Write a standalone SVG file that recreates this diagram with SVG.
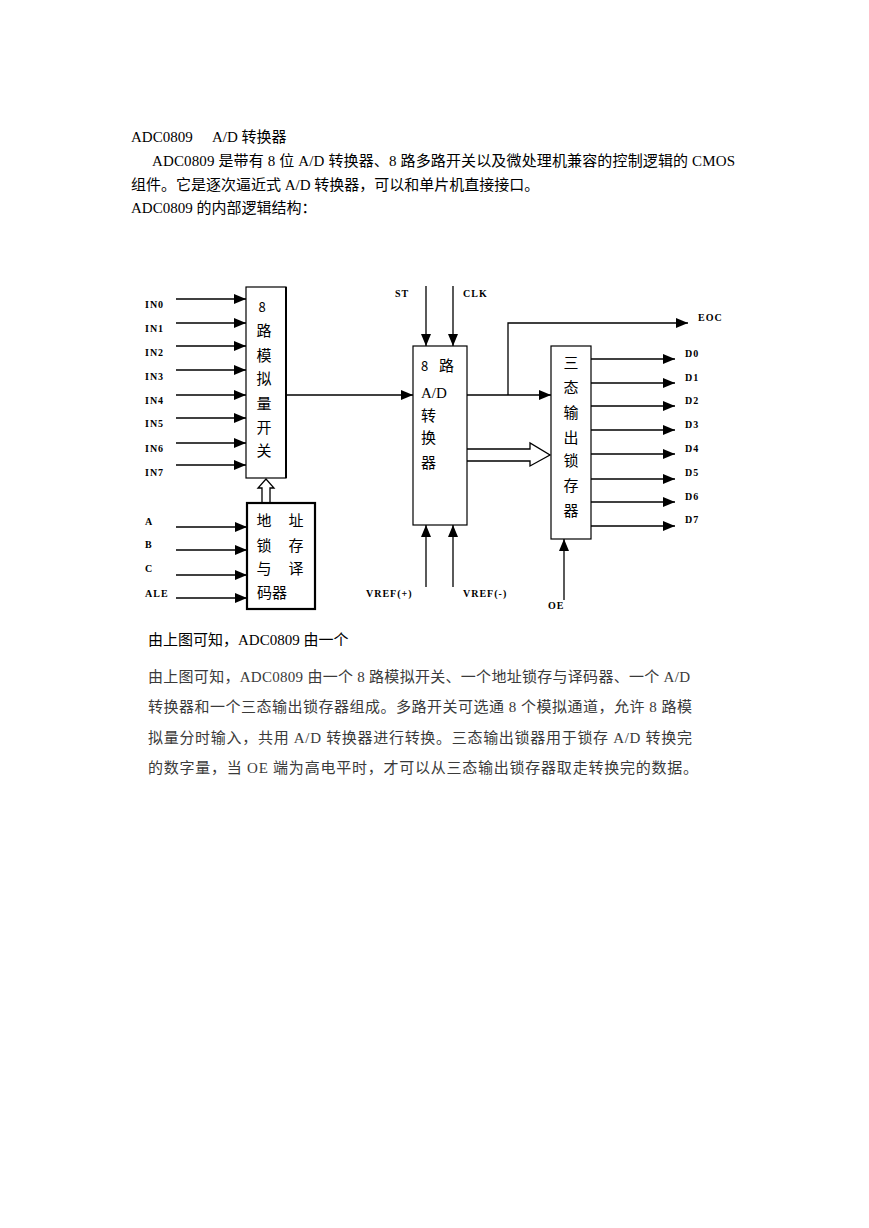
<svg xmlns="http://www.w3.org/2000/svg" width="869" height="1228" viewBox="0 0 869 1228">
<defs>
<marker id="ah" markerUnits="userSpaceOnUse" markerWidth="13" markerHeight="11" refX="12" refY="5" orient="auto">
<path d="M0,0 L12,5 L0,10 z" fill="#000"/>
</marker>
<style>
.t{font-family:"Liberation Serif","Noto Sans CJK SC",serif;font-size:15px;fill:#000}
.p{font-family:"Liberation Serif","Noto Sans CJK SC",serif;font-size:15px;fill:#3a3a3a}
.lb{font-family:"Liberation Serif",serif;font-size:10px;font-weight:bold;letter-spacing:1px;fill:#000}
.cn{font-family:"Noto Sans CJK SC",sans-serif;font-size:15px;fill:#000}
.w{stroke:#000;stroke-width:1.3;fill:none}
.box{fill:#fff;stroke:#000;stroke-width:1.2}
</style>
</defs>
<rect width="869" height="1228" fill="#fff"/>
<g id="header">
<text class="t" x="131" y="142">ADC0809<tspan x="212">A/D 转换器</tspan></text>
<text class="t" x="152" y="166" textLength="583" lengthAdjust="spacing">ADC0809 是带有 8 位 A/D 转换器、8 路多路开关以及微处理机兼容的控制逻辑的 CMOS</text>
<text class="t" x="131" y="190">组件。它是逐次逼近式 A/D 转换器，可以和单片机直接接口。</text>
<text class="t" x="131" y="213">ADC0809 的内部逻辑结构：</text>
</g>
<g id="connectors">
<line class="w" x1="176" y1="299" x2="246" y2="299" marker-end="url(#ah)"/>
<line class="w" x1="176" y1="323" x2="246" y2="323" marker-end="url(#ah)"/>
<line class="w" x1="176" y1="346" x2="246" y2="346" marker-end="url(#ah)"/>
<line class="w" x1="176" y1="370" x2="246" y2="370" marker-end="url(#ah)"/>
<line class="w" x1="176" y1="395" x2="246" y2="395" marker-end="url(#ah)"/>
<line class="w" x1="176" y1="418" x2="246" y2="418" marker-end="url(#ah)"/>
<line class="w" x1="176" y1="443" x2="246" y2="443" marker-end="url(#ah)"/>
<line class="w" x1="176" y1="465" x2="246" y2="465" marker-end="url(#ah)"/>
<line class="w" x1="176" y1="527" x2="247" y2="527" marker-end="url(#ah)"/>
<line class="w" x1="176" y1="550" x2="247" y2="550" marker-end="url(#ah)"/>
<line class="w" x1="176" y1="575" x2="247" y2="575" marker-end="url(#ah)"/>
<line class="w" x1="176" y1="598" x2="247" y2="598" marker-end="url(#ah)"/>
<path class="w" d="M262,503 L262,488 L258,488 L266,479 L274,488 L270,488 L270,503" fill="#fff"/>
<line class="w" x1="286" y1="395" x2="413" y2="395" marker-end="url(#ah)"/>
<line class="w" x1="426" y1="286" x2="426" y2="346" marker-end="url(#ah)"/>
<line class="w" x1="453" y1="286" x2="453" y2="346" marker-end="url(#ah)"/>
<line class="w" x1="426" y1="587" x2="426" y2="525" marker-end="url(#ah)"/>
<line class="w" x1="453" y1="587" x2="453" y2="525" marker-end="url(#ah)"/>
<line class="w" x1="467" y1="395" x2="551" y2="395" marker-end="url(#ah)"/>
<polyline class="w" points="508,395 508,323 688,323" marker-end="url(#ah)"/>
<path class="w" d="M467,449 L530,449 L530,443 L550,455 L530,466 L530,461 L467,461"/>
<line class="w" x1="591" y1="359" x2="675" y2="359" marker-end="url(#ah)"/>
<line class="w" x1="591" y1="383" x2="675" y2="383" marker-end="url(#ah)"/>
<line class="w" x1="591" y1="406" x2="675" y2="406" marker-end="url(#ah)"/>
<line class="w" x1="591" y1="430" x2="675" y2="430" marker-end="url(#ah)"/>
<line class="w" x1="591" y1="454" x2="675" y2="454" marker-end="url(#ah)"/>
<line class="w" x1="591" y1="479" x2="675" y2="479" marker-end="url(#ah)"/>
<line class="w" x1="591" y1="502" x2="675" y2="502" stroke-width="2" marker-end="url(#ah)"/>
<line class="w" x1="591" y1="526" x2="675" y2="526" marker-end="url(#ah)"/>
<line class="w" x1="564" y1="600" x2="564" y2="539" marker-end="url(#ah)"/>
</g>
<g id="labels">
<text class="lb" x="145" y="308">IN0</text>
<text class="lb" x="145" y="332">IN1</text>
<text class="lb" x="145" y="356">IN2</text>
<text class="lb" x="145" y="380">IN3</text>
<text class="lb" x="145" y="404">IN4</text>
<text class="lb" x="145" y="427">IN5</text>
<text class="lb" x="145" y="452">IN6</text>
<text class="lb" x="145" y="476">IN7</text>
<text class="lb" x="145" y="525">A</text>
<text class="lb" x="145" y="548">B</text>
<text class="lb" x="145" y="572">C</text>
<text class="lb" x="145" y="597">ALE</text>
<text class="lb" x="395" y="297">ST</text>
<text class="lb" x="463" y="297">CLK</text>
<text class="lb" x="366" y="597">VREF(+)</text>
<text class="lb" x="463" y="597">VREF(-)</text>
<text class="lb" x="698" y="321" letter-spacing="2">EOC</text>
<text class="lb" x="548" y="609">OE</text>
<text class="lb" x="685" y="357">D0</text>
<text class="lb" x="685" y="381">D1</text>
<text class="lb" x="685" y="404">D2</text>
<text class="lb" x="685" y="428">D3</text>
<text class="lb" x="685" y="452">D4</text>
<text class="lb" x="685" y="476">D5</text>
<text class="lb" x="685" y="500">D6</text>
<text class="lb" x="685" y="523">D7</text>
</g>
<g id="mux">
<rect class="box" x="246" y="287" width="40" height="191"/>
<line x1="286" y1="287" x2="286" y2="478" stroke="#000" stroke-width="2"/>
<g class="cn" text-anchor="middle" font-size="16">
<text x="262" y="312" font-size="13">8</text>
<text x="264" y="336">路</text>
<text x="264" y="361">模</text>
<text x="264" y="384">拟</text>
<text x="264" y="409">量</text>
<text x="264" y="433">开</text>
<text x="264" y="456">关</text>
</g>
</g>
<g id="addr-latch">
<rect x="247" y="503" width="68" height="106" fill="#fff" stroke="#000" stroke-width="2.2"/>
<g class="cn" text-anchor="middle">
<text x="264" y="526">地</text><text x="296" y="526">址</text>
<text x="264" y="551">锁</text><text x="296" y="551">存</text>
<text x="264" y="574">与</text><text x="296" y="574">译</text>
<text x="272" y="598">码器</text>
</g>
</g>
<g id="adc">
<rect class="box" x="413" y="346" width="54" height="179"/>
<g class="cn">
<text x="421" y="371"><tspan font-size="13">8</tspan><tspan x="439">路</tspan></text>
<text x="421" y="398" font-family="Liberation Serif,serif">A/D</text>
<text x="421" y="421">转</text>
<text x="421" y="443">换</text>
<text x="421" y="468">器</text>
</g>
</g>
<g id="out-latch">
<rect class="box" x="551" y="346" width="40" height="193"/>
<g class="cn" text-anchor="middle">
<text x="571" y="368">三</text>
<text x="571" y="393">态</text>
<text x="571" y="418">输</text>
<text x="571" y="443">出</text>
<text x="571" y="466">锁</text>
<text x="571" y="491">存</text>
<text x="571" y="516">器</text>
</g>
</g>
<g id="footer">
<text class="t" x="148" y="645">由上图可知，ADC0809  由一个</text>
<text class="p" x="148" y="682" textLength="542" lengthAdjust="spacing">由上图可知，ADC0809 由一个 8 路模拟开关、一个地址锁存与译码器、一个 A/D</text>
<text class="p" x="148" y="712" textLength="544" lengthAdjust="spacing">转换器和一个三态输出锁存器组成。多路开关可选通 8 个模拟通道，允许 8 路模</text>
<text class="p" x="148" y="743" textLength="544" lengthAdjust="spacing">拟量分时输入，共用 A/D 转换器进行转换。三态输出锁器用于锁存 A/D 转换完</text>
<text class="p" x="148" y="773" textLength="550" lengthAdjust="spacing">的数字量，当 OE 端为高电平时，才可以从三态输出锁存器取走转换完的数据。</text>
</g>
</svg>
